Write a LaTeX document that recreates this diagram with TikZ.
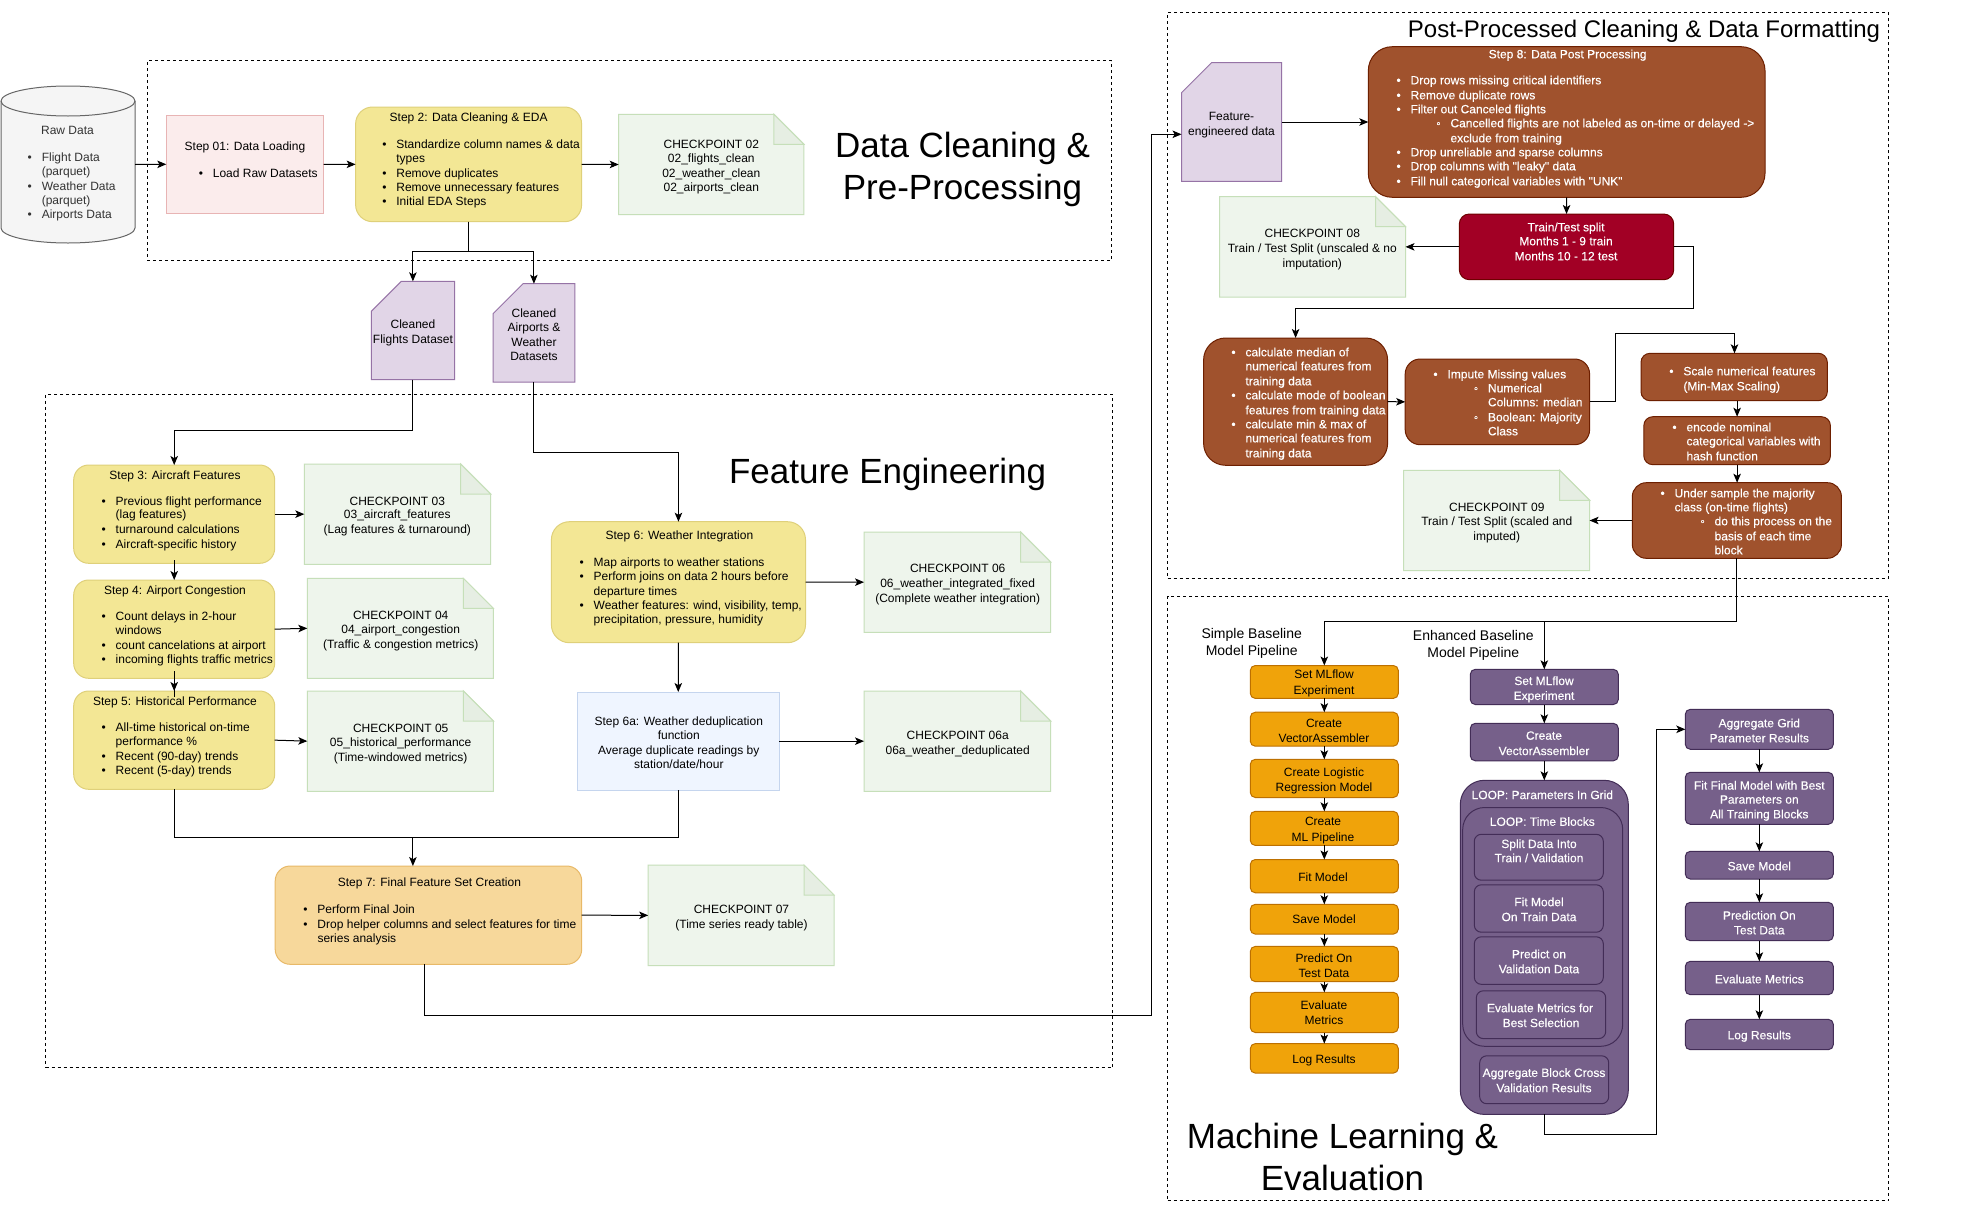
\documentclass[tikz,border=0pt]{standalone}
\usepackage{fontspec}
\setmainfont{Liberation Sans}
\newfontfamily\wfont[FakeBold=0.25]{Liberation Sans}
\usetikzlibrary{arrows.meta}
\definecolor{yelF}{HTML}{F3E795}\definecolor{yelD}{HTML}{DFD07A}
\definecolor{grnF}{HTML}{EEF5EC}\definecolor{grnD}{HTML}{C6DFB9}\definecolor{grnK}{HTML}{E6EEE3}
\definecolor{purF}{HTML}{E1D5E7}\definecolor{purD}{HTML}{9673A6}
\definecolor{broF}{HTML}{A0522D}\definecolor{broD}{HTML}{6D1F00}
\definecolor{redF}{HTML}{A20025}\definecolor{redD}{HTML}{6F0000}
\definecolor{oraF}{HTML}{F0A30A}\definecolor{oraD}{HTML}{BD7000}
\definecolor{vioF}{HTML}{76608A}\definecolor{vioD}{HTML}{432D57}
\definecolor{pinF}{HTML}{FBECEC}\definecolor{pinD}{HTML}{E8B4B4}
\definecolor{appF}{HTML}{F7D89B}\definecolor{appD}{HTML}{E8B968}
\definecolor{bluF}{HTML}{EFF5FF}\definecolor{bluD}{HTML}{C5D5EE}
\definecolor{cylF}{HTML}{F5F5F5}\definecolor{cylD}{HTML}{666666}
\newcommand\Put[3]{\pgfmathsetmacro\tmpa{#2+4.6-\curYv}\pgfmathsetmacro\curYv{#2+4.6}\pgfmathsetmacro\tmpb{#1-\bxX}\vskip\tmpa pt\relax
 \setbox0\hbox{\hspace*{\tmpb pt}#3}\ht0=0pt \dp0=0pt \wd0=\bxW pt\relax \box0\relax}
\newcommand\Lc[3]{\Put{#1}{#2}{\hbox to 0pt{\hss #3\hss}}}
\newcommand\Ll[3]{\Put{#1}{#2}{#3}}
\newcommand\Lb[3]{\Put{#1-12}{#2}{\hbox to 0pt{\hss •\hss}\hspace{12pt}#3}}
\newcommand\Lo[3]{\Put{#1-12}{#2}{\hbox to 0pt{\hss ◦\hss}\hspace{12pt}#3}}
\newcommand\bx[7]{\pgfmathsetmacro\bxX{#3}\pgfmathsetmacro\bxY{#4}\pgfmathsetmacro\bxW{#5-#3}\pgfmathsetmacro\bxH{#6-#4}%
 \pgfmathsetmacro\bxCx{(#3+#5)/2}\pgfmathsetmacro\bxCy{(#4+#6)/2}%
 \node[rectangle,inner sep=0pt,outer sep=0pt,font=\fontsize{12}{14.3}\selectfont,minimum width=\bxW pt,minimum height=\bxH pt,#1] (#2) at (\bxCx,\bxCy) {\parbox[c][\bxH pt][t]{\bxW pt}{\offinterlineskip\pgfmathsetmacro\curYv{\bxY}#7}};}
\newcommand\notebx[6]{\pgfmathsetmacro\fx{#4-30}\pgfmathsetmacro\fy{#3+30}%
 \filldraw[draw=grnD,fill=grnF,line width=1pt] (#2,#3) -- (\fx,#3) -- (#4,\fy) -- (#4,#5) -- (#2,#5) -- cycle;
 \filldraw[draw=grnD,fill=grnK,line width=1pt] (\fx,#3) -- (\fx,\fy) -- (#4,\fy) -- cycle;
 \bx{}{#1}{#2}{#3}{#4}{#5}{#6}}
\newcommand\cardbx[6]{\pgfmathsetmacro\fx{#2+30}\pgfmathsetmacro\fy{#3+30}%
 \filldraw[draw=purD,fill=purF,line width=1pt] (\fx,#3) -- (#4,#3) -- (#4,#5) -- (#2,#5) -- (#2,\fy) -- cycle;
 \bx{}{#1}{#2}{#3}{#4}{#5}{#6}}
\tikzset{
 arr/.style={draw=black,line width=1pt,-{Stealth[length=9pt,width=7.5pt,inset=2.2pt]}},
 lin/.style={draw=black,line width=1pt},
 dbox/.style={draw=black,line width=0.9pt,dash pattern=on 3pt off 3pt,rectangle,inner sep=0pt},
 yel/.style={draw=yelD,fill=yelF,rounded corners=15pt,line width=1pt},
 wht/.style={text=white,font=\fontsize{12}{14.3}\wfont},
 bro/.style={draw=broD,fill=broF,wht,line width=1pt},
 ora/.style={draw=oraD,fill=oraF,text=black,rounded corners=5pt,line width=1pt},
 vio/.style={draw=vioD,fill=vioF,wht,rounded corners=5pt,line width=1pt},
 ttl/.style={rectangle,inner sep=0pt,align=center,text=black},
}
\begin{document}
\begin{tikzpicture}[x=1pt,y=-1pt]
\useasboundingbox (0,0) rectangle (1970,1218);
\fill[white] (0,0) rectangle (1970,1218);
% section frames
\node[dbox,minimum width=964.5pt,minimum height=199.5pt] (frameA) at (629.6,160.4) {};
\node[dbox,minimum width=1067pt,minimum height=673.5pt] (frameB) at (579,731) {};
\node[dbox,minimum width=721pt,minimum height=565.5pt] (frameC) at (1528.2,295.5) {};
\node[dbox,minimum width=721pt,minimum height=604.5pt] (frameD) at (1528.2,898.5) {};
% titles
\node[ttl,font=\fontsize{35}{42}\selectfont] (tA) at (962.5,169) {Data Cleaning \&\\Pre-Processing};
\node[ttl,font=\fontsize{35}{42}\selectfont] (tB) at (887.6,474) {Feature Engineering};
\node[ttl,font=\fontsize{24}{28}\selectfont] (tC) at (1644,31) {Post-Processed Cleaning \& Data Formatting};
\node[ttl,font=\fontsize{35}{42}\selectfont] (tD) at (1342.5,1157) {Machine Learning \&\\Evaluation};
\node[ttl,font=\fontsize{14}{17}\selectfont] (tS) at (1251.7,643.5) {Simple Baseline\\Model Pipeline};
\node[ttl,font=\fontsize{14}{17}\selectfont] (tE) at (1473.3,645) {Enhanced Baseline\\Model Pipeline};
% cylinder
\filldraw[draw=cylD,fill=cylF,line width=1pt] (1,101) -- (1,228) .. controls (1,236.3) and (31,243) .. (68,243) .. controls (105,243) and (135,236.3) .. (135,228) -- (135,101) .. controls (135,92.7) and (105,86) .. (68,86) .. controls (31,86) and (1,92.7) .. (1,101) -- cycle;
\draw[draw=cylD,line width=1pt] (1,101) .. controls (1,109.3) and (31,116) .. (68,116) .. controls (105,116) and (135,109.3) .. (135,101);
\bx{text=black!80}{cyl}{1}{86}{135}{243}{\Lc{67.5}{130}{Raw Data}\Lb{41.8}{156.7}{Flight Data}\Ll{41.8}{170.7}{(parquet)}\Lb{41.8}{185.7}{Weather Data}\Ll{41.8}{199.7}{(parquet)}\Lb{41.8}{214}{Airports Data}}
% section A
\bx{draw=pinD,fill=pinF,line width=1pt}{stepA}{166.3}{115.3}{323.7}{213.3}{\Lc{245}{146}{Step 01: Data Loading}\Lb{212.9}{173}{Load Raw Datasets}}
\bx{yel,rounded corners=17pt}{stepB}{355.6}{107}{581.6}{221.7}{\Lc{468.6}{116.7}{Step 2: Data Cleaning \& EDA}\Lb{396.4}{144}{Standardize column names \& data}\Ll{396.4}{158}{types}\Lb{396.4}{172.7}{Remove duplicates}\Lb{396.4}{186.7}{Remove unnecessary features}\Lb{396.4}{201}{Initial EDA Steps}}
\notebx{cpB}{618.7}{114.3}{803.9}{214.7}{\Lc{711.3}{143.7}{CHECKPOINT 02}\Lc{711.3}{157.7}{02\_flights\_clean}\Lc{711.3}{172.7}{02\_weather\_clean}\Lc{711.3}{186.7}{02\_airports\_clean}}
\cardbx{flights}{371.3}{281.3}{454.5}{379.7}{\Lc{413}{323.7}{Cleaned}\Lc{413}{338.7}{Flights Dataset}}
\cardbx{airports}{493}{283.7}{574.8}{382}{\Lc{534}{312.7}{Cleaned}\Lc{534}{327}{Airports \&}\Lc{534}{341.7}{Weather}\Lc{534}{355.7}{Datasets}}
% section B
\bx{yel}{stepC}{73.7}{465}{274.7}{563.3}{\Lc{175}{474.7}{Step 3: Aircraft Features}\Lb{115.7}{500.7}{Previous flight performance}\Ll{115.7}{514.3}{(lag features)}\Lb{115.7}{529.3}{turnaround calculations}\Lb{115.7}{543.7}{Aircraft-specific history}}
\bx{yel}{stepD}{73.7}{580}{274.7}{678.3}{\Lc{175}{589.7}{Step 4: Airport Congestion}\Lb{115.7}{615.7}{Count delays in 2-hour}\Ll{115.7}{629.7}{windows}\Lb{115.7}{644.7}{count cancelations at airport}\Lb{115.7}{658.7}{incoming flights traffic metrics}}
\bx{yel}{stepE}{73.7}{691}{274.7}{789.3}{\Lc{175}{700.7}{Step 5: Historical Performance}\Lb{115.7}{726.7}{All-time historical on-time}\Ll{115.7}{740.7}{performance \%}\Lb{115.7}{755.7}{Recent (90-day) trends}\Lb{115.7}{769.7}{Recent (5-day) trends}}
\notebx{cpC}{304.3}{464}{490.7}{564.3}{\Lc{397.3}{500.7}{CHECKPOINT 03}\Lc{397.3}{514.3}{03\_aircraft\_features}\Lc{397.3}{529.3}{(Lag features \& turnaround)}}
\notebx{cpD}{307.3}{578.3}{493.3}{678.3}{\Lc{400.7}{614.7}{CHECKPOINT 04}\Lc{400.7}{628.7}{04\_airport\_congestion}\Lc{400.7}{643.7}{(Traffic \& congestion metrics)}}
\notebx{cpE}{307.3}{691}{493.3}{791.3}{\Lc{400.7}{727.7}{CHECKPOINT 05}\Lc{400.7}{741.7}{05\_historical\_performance}\Lc{400.7}{756.7}{(Time-windowed metrics)}}
\bx{yel,rounded corners=18pt}{stepF}{551.4}{521.7}{805.5}{642.7}{\Lc{679.4}{534.7}{Step 6: Weather Integration}\Lb{593.7}{561.7}{Map airports to weather stations}\Lb{593.7}{575.7}{Perform joins on data 2 hours before}\Ll{593.7}{590.7}{departure times}\Lb{593.7}{604.7}{Weather features: wind, visibility, temp,}\Ll{593.7}{618.7}{precipitation, pressure, humidity}}
\notebx{cpF}{864}{532}{1050.7}{632.3}{\Lc{957.7}{568.3}{CHECKPOINT 06}\Lc{957.7}{582.7}{06\_weather\_integrated\_fixed}\Lc{957.7}{597.7}{(Complete weather integration)}}
\bx{draw=bluD,fill=bluF,line width=1pt}{stepG}{577.5}{692}{779}{790.3}{\Lc{678.8}{720.7}{Step 6a: Weather deduplication}\Lc{678.8}{734.7}{function}\Lc{678.8}{749.7}{Average duplicate readings by}\Lc{678.8}{763.7}{station/date/hour}}
\notebx{cpG}{864}{691}{1050.7}{791.3}{\Lc{957.7}{734.7}{CHECKPOINT 06a}\Lc{957.7}{749.7}{06a\_weather\_deduplicated}}
\bx{draw=appD,fill=appF,rounded corners=15pt,line width=1pt}{stepH}{275.2}{866}{581.7}{964.3}{\Lc{429.4}{882.3}{Step 7: Final Feature Set Creation}\Lb{317.5}{908.7}{Perform Final Join}\Lb{317.5}{923.7}{Drop helper columns and select features for time}\Ll{317.5}{937.7}{series analysis}}
\notebx{cpH}{648.2}{865}{834}{965.7}{\Lc{741.5}{908.7}{CHECKPOINT 07}\Lc{741.5}{924}{(Time series ready table)}}
% section C
\cardbx{feat}{1181.5}{62.7}{1281.6}{181.3}{\Lc{1231.5}{115.7}{Feature-}\Lc{1231.5}{130.7}{engineered data}}
\bx{bro,rounded corners=24pt}{stepI}{1368.3}{46.7}{1765}{197.3}{\Lc{1567.6}{53.7}{Step 8: Data Post Processing}\Lb{1410.6}{79.7}{Drop rows missing critical identifiers}\Lb{1410.6}{94.7}{Remove duplicate rows}\Lb{1410.6}{108.7}{Filter out Canceled flights}\Lo{1450.5}{122.7}{Cancelled flights are not labeled as on-time or delayed ->}\Ll{1450.5}{137.7}{exclude from training}\Lb{1410.6}{151.7}{Drop unreliable and sparse columns}\Lb{1410.6}{165.7}{Drop columns with "leaky" data}\Lb{1410.6}{180.7}{Fill null categorical variables with "UNK"}}
\bx{draw=redD,fill=redF,wht,line width=1pt,rounded corners=10pt}{split}{1459.3}{214}{1673.7}{279.7}{\Lc{1566}{226.7}{Train/Test split}\Lc{1566}{240.7}{Months 1 - 9 train}\Lc{1566}{255.7}{Months 10 - 12 test}}
\notebx{cpI}{1219.6}{196.7}{1405.5}{297}{\Lc{1312.3}{233.3}{CHECKPOINT 08}\Lc{1312.3}{247.7}{Train / Test Split (unscaled \& no}\Lc{1312.3}{262.7}{imputation)}}
\bx{bro,rounded corners=22pt}{calc}{1203.6}{338}{1387.6}{465.3}{\Lb{1245.5}{351.7}{calculate median of}\Ll{1245.5}{365.7}{numerical features from}\Ll{1245.5}{380.7}{training data}\Lb{1245.5}{394.7}{calculate mode of boolean}\Ll{1245.5}{409.7}{features from training data}\Lb{1245.5}{423.7}{calculate min \& max of}\Ll{1245.5}{437.7}{numerical features from}\Ll{1245.5}{452.7}{training data}}
\bx{bro,rounded corners=15pt}{impute}{1405.2}{359}{1589.6}{444.7}{\Lb{1447.5}{373.7}{Impute Missing values}\Lo{1488}{387.7}{Numerical}\Ll{1488}{401.7}{Columns: median}\Lo{1488}{416.7}{Boolean: Majority}\Ll{1488}{430.7}{Class}}
\bx{bro,rounded corners=9pt}{scale}{1641}{353.3}{1827.3}{400.7}{\Lb{1683.4}{370.7}{Scale numerical features}\Ll{1683.4}{385.7}{(Min-Max Scaling)}}
\bx{bro,rounded corners=9pt}{encode}{1643.8}{416.7}{1830.4}{464.7}{\Lb{1686.5}{426.7}{encode nominal}\Ll{1686.5}{440.7}{categorical variables with}\Ll{1686.5}{455.7}{hash function}}
\bx{bro,rounded corners=14pt}{under}{1632.3}{482.7}{1841.4}{558.3}{\Lb{1674.6}{492.7}{Under sample the majority}\Ll{1674.6}{506.7}{class (on-time flights)}\Lo{1714.6}{520.7}{do this process on the}\Ll{1714.6}{535.7}{basis of each time}\Ll{1714.6}{549.7}{block}}
\notebx{cpJ}{1403.5}{470.3}{1589.6}{570.7}{\Lc{1496.8}{506.7}{CHECKPOINT 09}\Lc{1496.8}{520.7}{Train / Test Split (scaled and}\Lc{1496.8}{535.7}{imputed)}}
% simple pipeline
\bx{ora}{oA}{1250.3}{665.5}{1398.3}{698.4}{\Lc{1324}{674.3}{Set MLflow}\Lc{1324}{689.6}{Experiment}}
\bx{ora}{oB}{1250.3}{712.2}{1398.3}{746.2}{\Lc{1324}{722.5}{Create}\Lc{1324}{737.4}{VectorAssembler}}
\bx{ora}{oC}{1250.3}{759.3}{1398.3}{797.5}{\Lc{1324}{771.5}{Create Logistic}\Lc{1324}{786.4}{Regression Model}}
\bx{ora}{oD}{1250.3}{811.3}{1398.3}{845.4}{\Lc{1323}{821.2}{Create}\Lc{1323}{836.6}{ML Pipeline}}
\bx{ora}{oE}{1250.3}{859.5}{1398.3}{892.8}{\Lc{1323}{876.4}{Fit Model}}
\bx{ora}{oF}{1250.3}{904.3}{1398.3}{934.1}{\Lc{1324}{919.2}{Save Model}}
\bx{ora}{oG}{1250.3}{946.4}{1398.3}{981.6}{\Lc{1324}{957.5}{Predict On}\Lc{1324}{972.4}{Test Data}}
\bx{ora}{oH}{1250.3}{992.3}{1398.3}{1032.5}{\Lc{1324}{1005.3}{Evaluate}\Lc{1324}{1020.2}{Metrics}}
\bx{ora}{oI}{1250.3}{1043.6}{1398.3}{1073.1}{\Lc{1324}{1058.5}{Log Results}}
% enhanced pipeline
\bx{vio}{vA}{1470.3}{669.3}{1618.3}{704.5}{\Lc{1544}{680.4}{Set MLflow}\Lc{1544}{695.3}{Experiment}}
\bx{vio}{vB}{1470.3}{723.3}{1618.3}{760.8}{\Lc{1544}{735.1}{Create}\Lc{1544}{750.5}{VectorAssembler}}
\bx{vio,rounded corners=24pt}{loopA}{1460.3}{780.3}{1628.3}{1114.4}{\Lc{1542.3}{794.5}{LOOP: Parameters In Grid}}
\bx{vio,rounded corners=22pt}{loopB}{1462.7}{807.5}{1622.7}{1046.3}{\Lc{1542.3}{821.2}{LOOP: Time Blocks}}
\bx{vio,rounded corners=7pt}{vC}{1474.3}{834.3}{1603.3}{880.2}{\Lc{1539}{843.4}{Split Data Into}\Lc{1539}{857.6}{Train / Validation}}
\bx{vio,rounded corners=7pt}{vD}{1474.3}{884.8}{1603.3}{932.2}{\Lc{1539}{901.6}{Fit Model}\Lc{1539}{916.5}{On Train Data}}
\bx{vio,rounded corners=7pt}{vE}{1474.3}{936.8}{1603.3}{984.3}{\Lc{1539}{953.7}{Predict on}\Lc{1539}{968.6}{Validation Data}}
\bx{vio,rounded corners=7pt}{vF}{1476.3}{990.8}{1605.7}{1038.6}{\Lc{1540}{1007.6}{Evaluate Metrics for}\Lc{1541}{1022.5}{Best Selection}}
\bx{vio,rounded corners=7pt}{vG}{1479.7}{1055.8}{1608.7}{1103.7}{\Lc{1544}{1072.3}{Aggregate Block Cross}\Lc{1544}{1087.6}{Validation Results}}
% final column
\bx{vio}{wA}{1685.3}{709.3}{1833.3}{749.3}{\Lc{1759.3}{722.7}{Aggregate Grid}\Lc{1759.3}{737.7}{Parameter Results}}
\bx{vio}{wB}{1685.3}{772.3}{1833.3}{824.3}{\Lc{1759.3}{785}{Fit Final Model with Best}\Lc{1759.3}{799}{Parameters on}\Lc{1759.3}{813.7}{All Training Blocks}}
\bx{vio}{wC}{1685.3}{851.3}{1833.3}{879}{\Lc{1759.3}{865.7}{Save Model}}
\bx{vio}{wD}{1685.3}{902.3}{1833.3}{940.7}{\Lc{1759.3}{915}{Prediction On}\Lc{1759.3}{929.7}{Test Data}}
\bx{vio}{wE}{1685.3}{961.3}{1833.3}{994.7}{\Lc{1759.3}{978.7}{Evaluate Metrics}}
\bx{vio}{wF}{1685.3}{1019.3}{1833.3}{1049.7}{\Lc{1759.3}{1034.7}{Log Results}}
% routing levels
\coordinate (ra) at (0,251.7);
\coordinate (rb) at (0,430);
\coordinate (rc) at (0,452);
\coordinate (rd) at (0,837.3);
\coordinate (re) at (412.9,0);
\coordinate (rf) at (424.3,1015.2);
\coordinate (rg) at (1151.5,134.3);
\coordinate (rh) at (1693.4,308.7);
\coordinate (ri) at (1615.2,333.7);
\coordinate (rj) at (1734.5,0);
\coordinate (rk) at (0,621.5);
\coordinate (rl) at (1656.6,1134.3);
% connectors A
\draw[arr] (cyl.east) -- (stepA.west);
\draw[arr] (stepA.east) -- (stepB.west);
\draw[arr] (stepB.east) -- (cpB.west);
\draw[arr] (stepB.south) -- (stepB.south |- ra) -- (flights.north |- ra) -- (flights.north);
\draw[arr] (stepB.south) -- (stepB.south |- ra) -- (airports.north |- ra) -- (airports.north);
% connectors B
\draw[arr] (flights.south) -- (flights.south |- rb) -- (stepC.north |- rb) -- (stepC.north);
\draw[arr] (airports.south) -- (airports.south |- rc) -- (stepF.north |- rc) -- (stepF.north);
\draw[arr] ([yshift=3pt]stepC.south) -- (stepD.north);
\draw[lin] (stepD.south) -- ([yshift=-6pt]stepE.north);
\draw[arr] ([yshift=7pt]stepD.south) -- (stepE.north);
\draw[arr] (stepC.east) -- (cpC.west);
\draw[arr] (stepD.east) -- (cpD.west);
\draw[arr] (stepE.east) -- (cpE.west);
\draw[arr] (stepF.east) -- (cpF.west);
\draw[arr] (stepF.south) -- (stepG.north);
\draw[arr] (stepG.east) -- (cpG.west);
\draw[lin] (stepE.south) -- (stepE.south |- rd) -- (stepG.south |- rd) -- (stepG.south);
\draw[arr] (re |- rd) -- (re |- stepH.north);
\draw[arr] (stepH.east) -- (cpH.west);
\draw[arr] (rf |- stepH.south) -- (rf) -- (rf -| rg) -- (rg) -- (feat.west |- rg);
% connectors C
\draw[arr] (feat.east) -- (stepI.west);
\draw[arr] (stepI.south) -- (split.north);
\draw[arr] (split.west) -- (cpI.east);
\draw[arr] (split.east) -- (split.east -| rh) -- (rh) -- (calc.north |- rh) -- (calc.north);
\draw[arr] (calc.east) -- (impute.west);
\draw[arr] (impute.east) -- (impute.east -| ri) -- (ri) -- (rj |- ri) -- (rj |- scale.north);
\draw[arr] (encode.north |- scale.south) -- (encode.north);
\draw[arr] (encode.south) -- (encode.south |- under.north);
\draw[arr] (under.west) -- (cpJ.east);
\draw[arr] (under.south) -- (under.south |- rk) -- (oA.north |- rk) -- (oA.north);
\draw[arr] (vA.north |- rk) -- (vA.north);
% pipelines
\foreach \a/\b in {oA/oB,oB/oC,oC/oD,oD/oE,oE/oF,oF/oG,oG/oH,oH/oI,vA/vB,vB/loopA,wA/wB,wB/wC,wC/wD,wD/wE,wE/wF}{\draw[arr] (\a.south) -- (\b.north);}
\draw[arr] (loopA.south) -- (loopA.south |- rl) -- (rl) -- (rl |- wA.west) -- (wA.west);
\end{tikzpicture}
\end{document}
